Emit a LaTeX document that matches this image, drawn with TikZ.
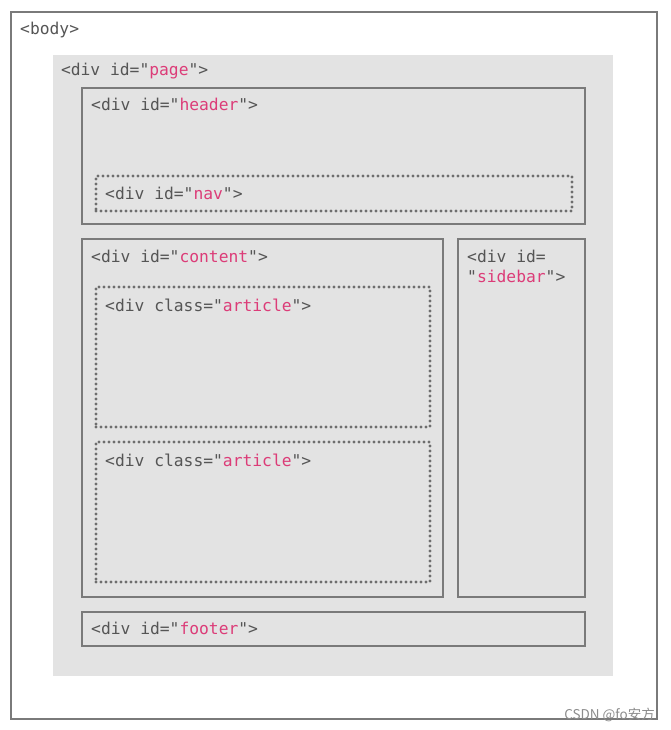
\documentclass[tikz,border=0pt]{standalone}
\usepackage{fontspec}
\setmonofont{DejaVu Sans Mono}
\newfontfamily\cjk{Noto Sans CJK SC}
\usepackage{xcolor}
\usepackage{tikz}
\usetikzlibrary{positioning}
\definecolor{edgegray}{HTML}{7A7A7A}
\definecolor{dotgray}{HTML}{6E6E6E}
\definecolor{textgray}{HTML}{555555}
\definecolor{pagegray}{HTML}{E3E3E3}
\definecolor{idpink}{HTML}{DC3C78}
\newcommand{\idval}[1]{\textcolor{idpink}{#1}}
\tikzset{box/.style={rectangle,draw=edgegray,line width=2.4pt,inner sep=0pt,outer sep=0pt},
    dotbox/.style={rectangle,draw=dotgray,line width=3.2pt,line cap=round,dash pattern=on 0pt off 5pt,inner sep=0pt,outer sep=0pt},
    tag/.style={inner sep=0pt,anchor=base west,text=textgray,font=\fontsize{16.3}{20}\selectfont\ttfamily}}

\begin{document}
\begin{tikzpicture}[x=1pt,y=-1pt]
    \useasboundingbox (0,0) rectangle (670,730);
    \node[box,line width=2pt,minimum width=646pt,minimum height=707pt] (body) at (334,365.5) {};
    \node[fill=pagegray,inner sep=0pt,minimum width=560pt,minimum height=621pt] (page) at (333,365.5) {};
    \node[box,minimum width=503pt,minimum height=136pt] (header) at (333.5,156) {};
    \node[dotbox,minimum width=476pt,minimum height=35pt] (nav) at (334,193.5) {};
    \node[box,minimum width=361pt,minimum height=358pt] (content) at (262.5,418) {};
    \node[box,minimum width=127pt,minimum height=358pt] (sidebar) at (521.5,418) {};
    \node[dotbox,minimum width=334pt,minimum height=140pt] (art1) at (263,357) {};
    \node[dotbox,minimum width=334pt,minimum height=140pt] (art2) at (263,512) {};
    \node[box,minimum width=503pt,minimum height=34pt] (footer) at (333.5,629) {};

    \node[below right=23pt and 9pt of body.north west,tag] (bodytag) {<body>};
    \node[below right=21pt and 8pt of page.north west,tag] (pagetag) {<div id="\idval{page}">};
    \node[below right=23pt and 9pt of header.north west,tag] (headertag) {<div id="\idval{header}">};
    \node[below right=23pt and 9pt of nav.north west,tag] (navtag) {<div id="\idval{nav}">};
    \node[below right=23pt and 9pt of content.north west,tag] (contenttag) {<div id="\idval{content}">};
    \node[below right=43pt and 9pt of sidebar.north west,tag,align=left] (sidebartag) {<div id=\\"\idval{sidebar}">};
    \node[below right=24pt and 9pt of art1.north west,tag] (art1tag) {<div class="\idval{article}">};
    \node[below right=24pt and 9pt of art2.north west,tag] (art2tag) {<div class="\idval{article}">};
    \node[below right=22pt and 9pt of footer.north west,tag] (footertag) {<div id="\idval{footer}">};

    \node[anchor=base east,inner sep=0pt,text=black!45,font=\cjk\fontsize{13.5}{14}\selectfont] (mark) at (655,719) {CSDN @fo安方};
\end{tikzpicture}
\end{document}
